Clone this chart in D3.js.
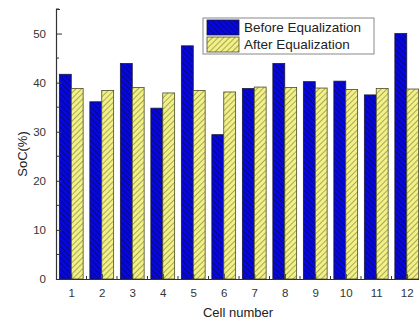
<!DOCTYPE html>
<html>
<head>
<meta charset="utf-8">
<script src="https://cdnjs.cloudflare.com/ajax/libs/d3/7.8.5/d3.min.js"></script>
<style>
  body { margin: 0; background: #fff; }
  svg { display: block; font-family: Arial, "Liberation Sans", sans-serif; }
</style>
</head>
<body>
<div id="chart"></div>
<script>
// SoC per cell
const cells = [1, 2, 3, 4, 5, 6, 7, 8, 9, 10, 11, 12];
const before = [41.7, 36.1, 43.9, 34.8, 47.5, 29.4, 38.8, 43.9, 40.2, 40.3, 37.5, 50.0];
const after = [38.8, 38.4, 39.0, 37.9, 38.4, 38.1, 39.1, 39.0, 38.9, 38.6, 38.8, 38.7];
const yTicks = [0, 10, 20, 30, 40, 50];
const seriesNames = ["Before Equalization", "After Equalization"];

const width = 419, height = 321,
    margin = ({ top: 9, right: -3, bottom: 42, left: 56 });

const svg = d3.select("#chart")
    .append("svg")
    .attr("width", width)
    .attr("height", height);

// hatch fills
const defs = svg.append("defs");
const hatch = (id, bg, line, angle) => {
    const p = defs.append("pattern")
        .attr("id", id)
        .attr("patternUnits", "userSpaceOnUse")
        .attr("width", 4).attr("height", 4)
        .attr("patternTransform", `rotate(${angle})`);
    p.append("rect").attr("width", 4).attr("height", 4).attr("fill", bg);
    p.append("line").attr("x1", 0).attr("y1", 0).attr("x2", 0).attr("y2", 4)
        .attr("stroke", line).attr("stroke-width", 1.4);
};
hatch("hBlue", "#0606e0", "#0a0a50", -45);
hatch("hYellow", "#f2f088", "#8a8a3a", 45);

let x = d3.scaleLinear()
    .domain([0.5, 12.5])
    .range([margin.left, width - margin.right]);

let y = d3.scaleLinear()
    .domain([0, 55])
    .range([height - margin.bottom, margin.top]);

const bw = 0.39; // bar width in category units

// bars
svg.append("g").selectAll("rect")
    .data(cells)
    .join("rect")
    .attr("x", d => x(d - bw))
    .attr("y", (d, i) => y(before[i]))
    .attr("width", x(bw) - x(0))
    .attr("height", (d, i) => y(0) - y(before[i]))
    .attr("fill", "url(#hBlue)")
    .attr("stroke", "#1a1a3a")
    .attr("stroke-width", 0.8);

svg.append("g").selectAll("rect")
    .data(cells)
    .join("rect")
    .attr("x", d => x(d))
    .attr("y", (d, i) => y(after[i]))
    .attr("width", x(bw) - x(0))
    .attr("height", (d, i) => y(0) - y(after[i]))
    .attr("fill", "url(#hYellow)")
    .attr("stroke", "#4a4a2a")
    .attr("stroke-width", 0.8);

// y axis, ticks inward
const yAxis = svg.append("g")
    .attr("transform", `translate(${margin.left},0)`)
    .call(d3.axisLeft(y).tickValues(yTicks).tickSize(-6).tickSizeOuter(-4).tickPadding(10));
yAxis.append("g").selectAll("line")
    .data(yTicks.map(d => d + 5))
    .join("line")
    .attr("x1", 0).attr("x2", 3)
    .attr("y1", d => y(d)).attr("y2", d => y(d))
    .attr("stroke", "#333");

// x axis, minor ticks between cells
const xAxis = svg.append("g")
    .attr("transform", `translate(0,${height - margin.bottom})`)
    .call(d3.axisBottom(x).tickValues(cells).tickSize(-5).tickSizeOuter(0).tickPadding(10));
xAxis.append("g").selectAll("line")
    .data(cells.map(d => d + 0.5))
    .join("line")
    .attr("x1", d => x(d)).attr("x2", d => x(d))
    .attr("y1", 0).attr("y2", -3)
    .attr("stroke", "#333");

svg.selectAll(".domain").attr("stroke", "#333").attr("stroke-width", 1.2);
svg.selectAll(".tick line").attr("stroke", "#333");
svg.selectAll(".tick text").attr("font-size", 11.5).attr("fill", "#333").attr("font-family", "Arial");

// axis labels
svg.append("text")
    .attr("x", 238)
    .attr("y", 317)
    .attr("text-anchor", "middle")
    .attr("font-size", 13)
    .attr("fill", "#222")
    .text("Cell number");

svg.append("text")
    .attr("transform", "rotate(-90)")
    .attr("x", -154)
    .attr("y", 27)
    .attr("text-anchor", "middle")
    .attr("font-size", 13)
    .attr("fill", "#222")
    .text("SoC(%)");

// legend
const legend = svg.append("g").attr("transform", "translate(203,18)");
legend.append("rect")
    .attr("width", 171).attr("height", 36)
    .attr("fill", "#fff").attr("stroke", "#888");
legend.selectAll(".sw")
    .data(seriesNames)
    .join("rect")
    .attr("x", 4).attr("y", (d, i) => 2 + i * 17)
    .attr("width", 32).attr("height", 15)
    .attr("fill", (d, i) => i ? "url(#hYellow)" : "url(#hBlue)")
    .attr("stroke", (d, i) => i ? "#4a4a2a" : "#1a1a3a")
    .attr("stroke-width", 0.8);
legend.selectAll("text")
    .data(seriesNames)
    .join("text")
    .attr("x", 41).attr("y", (d, i) => 14 + i * 17)
    .attr("font-size", 13.5)
    .attr("fill", "#222")
    .text(d => d);
</script>
</body>
</html>
